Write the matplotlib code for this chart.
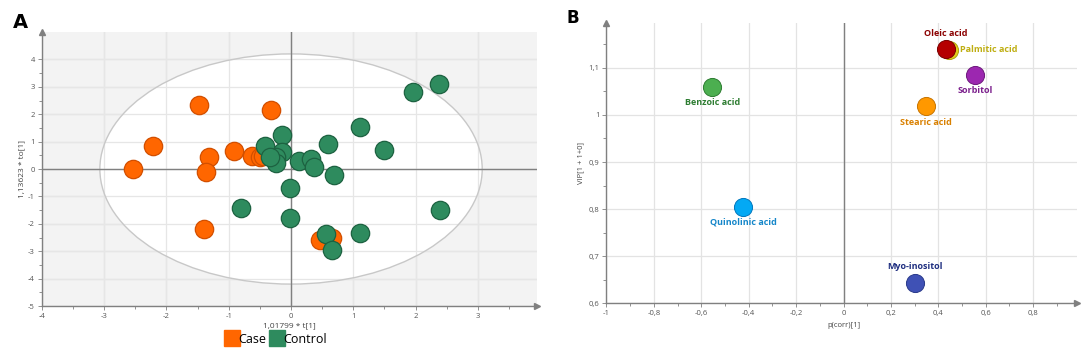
import matplotlib
matplotlib.use("Agg")
import matplotlib.pyplot as plt
from matplotlib.patches import Ellipse
from matplotlib.lines import Line2D

# ---------------- Data: panel A (scores) ----------------
case_x = [-1.47, -2.22, -2.53, -1.32, -1.36, -0.92, -0.63, -0.50, -0.45, -1.40, -0.32, 0.46, 0.65]
case_y = [2.33, 0.84, 0.00, 0.45, -0.10, 0.66, 0.48, 0.45, 0.47, -2.20, 2.16, -2.60, -2.50]
ctrl_x = [2.37, 1.96, 1.10, 1.50, 0.60, -0.14, -0.42, -0.14, -0.24, -0.24, 0.12, 0.32, 0.37,
          0.69, -0.01, -0.01, 2.40, 1.10, 0.56, 0.65, -0.80, -0.34]
ctrl_y = [3.11, 2.81, 1.55, 0.70, 0.90, 1.25, 0.84, 0.63, 0.45, 0.21, 0.29, 0.37, 0.08,
          -0.22, -0.68, -1.77, -1.48, -2.33, -2.38, -2.97, -1.44, 0.45]
groups = ["Case", "Control"]
ellipse_semi = (3.07, 4.2)
a_xticks = [-4, -3, -2, -1, 0, 1, 2, 3]
a_yticks = [-5, -4, -3, -2, -1, 0, 1, 2, 3, 4]

# ---------------- Data: panel B (VIP vs p(corr)) ----------------
metabolites = ["Oleic acid", "Palmitic acid", "Sorbitol", "Stearic acid",
               "Myo-inositol", "Benzoic acid", "Quinolinic acid"]
pcorr = [0.433, 0.445, 0.556, 0.346, 0.300, -0.553, -0.423]
vip = [1.140, 1.138, 1.085, 1.018, 0.644, 1.060, 0.805]
b_xticks = [-1, -0.8, -0.6, -0.4, -0.2, 0, 0.2, 0.4, 0.6, 0.8]
b_yticks = [0.6, 0.7, 0.8, 0.9, 1.0, 1.1]

# styles
case_face, case_edge = "#ff6600", "#d24f00"
ctrl_face, ctrl_edge = "#2e8b5e", "#1d6241"
b_face = {"Oleic acid": "#b50000", "Palmitic acid": "#e3cf1c", "Sorbitol": "#9c27b0",
          "Stearic acid": "#ff9800", "Myo-inositol": "#3f51b5", "Benzoic acid": "#4caf50",
          "Quinolinic acid": "#03a9f4"}
b_edge = {"Oleic acid": "#7a0000", "Palmitic acid": "#b0a010", "Sorbitol": "#6d1a7c",
          "Stearic acid": "#c77400", "Myo-inositol": "#2a3a8a", "Benzoic acid": "#2e7d32",
          "Quinolinic acid": "#0277bd"}
b_text = {"Oleic acid": "#8b0000", "Palmitic acid": "#bfae12", "Sorbitol": "#7b1f8c",
          "Stearic acid": "#d98000", "Myo-inositol": "#1f2f80", "Benzoic acid": "#2e7d32",
          "Quinolinic acid": "#1586c9"}
# label placement: (dx, dy in points, ha, va)
b_lab = {"Oleic acid": (0, 8, "center", "bottom"), "Palmitic acid": (8, 0, "left", "center"),
         "Sorbitol": (0, -8, "center", "top"), "Stearic acid": (0, -8, "center", "top"),
         "Myo-inositol": (0, 8, "center", "bottom"), "Benzoic acid": (0, -8, "center", "top"),
         "Quinolinic acid": (0, -8, "center", "top")}

plt.rcParams['font.family'] = ['Open Sans', 'DejaVu Sans']

fig = plt.figure(figsize=(10.84, 3.49), dpi=100)

# ================= Panel A =================
axA = fig.add_axes([0.0387, 0.1232, 0.4567, 0.7851])
axA.set_xlim(-4, 3.95)
axA.set_ylim(-5, 5.0)
axA.set_facecolor("#f3f3f3")
for v in a_xticks:
    axA.axvline(v, color="#dcdcdc", lw=0.9, zorder=0)
for v in a_yticks:
    axA.axhline(v, color="#dcdcdc", lw=0.9, zorder=0)
ell_fill = Ellipse((0, 0), 2 * ellipse_semi[0], 2 * ellipse_semi[1], facecolor="white",
                   edgecolor="none", zorder=0.5)
axA.add_patch(ell_fill)
for v in a_xticks:
    axA.axvline(v, color="#e6e6e6", lw=0.9, zorder=0.6)
for v in a_yticks:
    axA.axhline(v, color="#e6e6e6", lw=0.9, zorder=0.6)
ell = Ellipse((0, 0), 2 * ellipse_semi[0], 2 * ellipse_semi[1], facecolor="none",
              edgecolor="#c8c8c8", lw=1.0, zorder=1)
axA.add_patch(ell)
axA.axhline(0, color="#808080", lw=1.0, zorder=1.2)
axA.axvline(0, color="#808080", lw=1.0, zorder=1.2)
axA.scatter(case_x, case_y, s=175, c=case_face, edgecolors=case_edge, linewidths=0.9, zorder=3)
axA.scatter(ctrl_x, ctrl_y, s=175, c=ctrl_face, edgecolors=ctrl_edge, linewidths=0.9, zorder=4)

for sp in ["top", "right"]:
    axA.spines[sp].set_visible(False)
for sp in ["left", "bottom"]:
    axA.spines[sp].set_color("#808080")
    axA.spines[sp].set_linewidth(1.0)
axA.set_xticks(a_xticks)
axA.set_yticks(a_yticks)
axA.set_xticks([v + 0.5 for v in a_xticks], minor=True)
axA.set_yticks([v + 0.5 for v in a_yticks[:-1]], minor=True)
axA.set_xticklabels([str(v) for v in a_xticks])
axA.set_yticklabels([str(v) for v in a_yticks])
axA.tick_params(axis="both", which="major", labelsize=5.5, colors="#808080",
                labelcolor="#555555", length=3, width=0.6, pad=2)
axA.tick_params(axis="both", which="minor", colors="#808080", length=2, width=0.6)
axA.plot(1, 0, ">", color="#808080", ms=4, transform=axA.transAxes, clip_on=False)
axA.plot(0, 1, "^", color="#808080", ms=4, transform=axA.transAxes, clip_on=False)
axA.set_xlabel("1,01799 * t[1]", fontsize=6, color="#444444", labelpad=2)
axA.set_ylabel("1,13623 * to[1]", fontsize=6, color="#444444", labelpad=2)
fig.text(0.012, 0.92, "A", fontsize=14, fontweight="bold", family="DejaVu Sans")

handles = [Line2D([], [], marker="s", ls="none", ms=11, mfc=case_face, mec=case_face),
           Line2D([], [], marker="s", ls="none", ms=11, mfc=ctrl_face, mec=ctrl_face)]
fig.legend(handles, groups, loc="center", bbox_to_anchor=(0.255, 0.028), ncol=2,
           frameon=False, fontsize=9, handletextpad=0.05, columnspacing=0.3,
           handlelength=1.0, borderpad=0.1)

# ================= Panel B =================
axB = fig.add_axes([0.5595, 0.1309, 0.434, 0.803])
axB.set_xlim(-1, 0.985)
axB.set_ylim(0.6, 1.195)
axB.set_facecolor("white")
for v in b_xticks:
    axB.axvline(v, color="#e3e3e3", lw=0.9, zorder=0)
for v in b_yticks:
    axB.axhline(v, color="#e3e3e3", lw=0.9, zorder=0)
axB.axvline(0, color="#808080", lw=1.0, zorder=1)
order = ["Palmitic acid", "Oleic acid", "Sorbitol", "Stearic acid", "Myo-inositol",
         "Benzoic acid", "Quinolinic acid"]
for name in order:
    i = metabolites.index(name)
    axB.scatter([pcorr[i]], [vip[i]], s=170, c=b_face[name], edgecolors=b_edge[name],
                linewidths=0.7, zorder=3)
for name, xv, yv in zip(metabolites, pcorr, vip):
    dx, dy, ha, va = b_lab[name]
    axB.annotate(name, (xv, yv), xytext=(dx, dy), textcoords="offset points",
                 ha=ha, va=va, fontsize=6.5, fontweight="bold", color=b_text[name], zorder=5)

for sp in ["top", "right"]:
    axB.spines[sp].set_visible(False)
for sp in ["left", "bottom"]:
    axB.spines[sp].set_color("#808080")
    axB.spines[sp].set_linewidth(1.0)
axB.set_xticks(b_xticks)
axB.set_yticks(b_yticks)
axB.set_xticks([v + 0.1 for v in b_xticks], minor=True)
axB.set_yticks([v + 0.05 for v in b_yticks], minor=True)


def fmt(v):
    s = ("%g" % round(v, 2)).replace(".", ",")
    return s


axB.set_xticklabels([fmt(v) for v in b_xticks])
axB.set_yticklabels([fmt(v) for v in b_yticks])
axB.tick_params(axis="both", which="major", labelsize=5.5, colors="#808080",
                labelcolor="#555555", length=3, width=0.6, pad=2)
axB.tick_params(axis="both", which="minor", colors="#808080", length=2, width=0.6)
axB.plot(1, 0, ">", color="#808080", ms=4, transform=axB.transAxes, clip_on=False)
axB.plot(0, 1, "^", color="#808080", ms=4, transform=axB.transAxes, clip_on=False)
axB.set_xlabel("p(corr)[1]", fontsize=5.5, color="#444444", labelpad=2)
axB.xaxis.set_label_coords(0.505, -0.065)
axB.set_ylabel("VIP[1 + 1+0]", fontsize=5.5, color="#444444", labelpad=3)
fig.text(0.523, 0.935, "B", fontsize=12, fontweight="bold", family="DejaVu Sans")

fig.savefig("out.png", dpi=100)
